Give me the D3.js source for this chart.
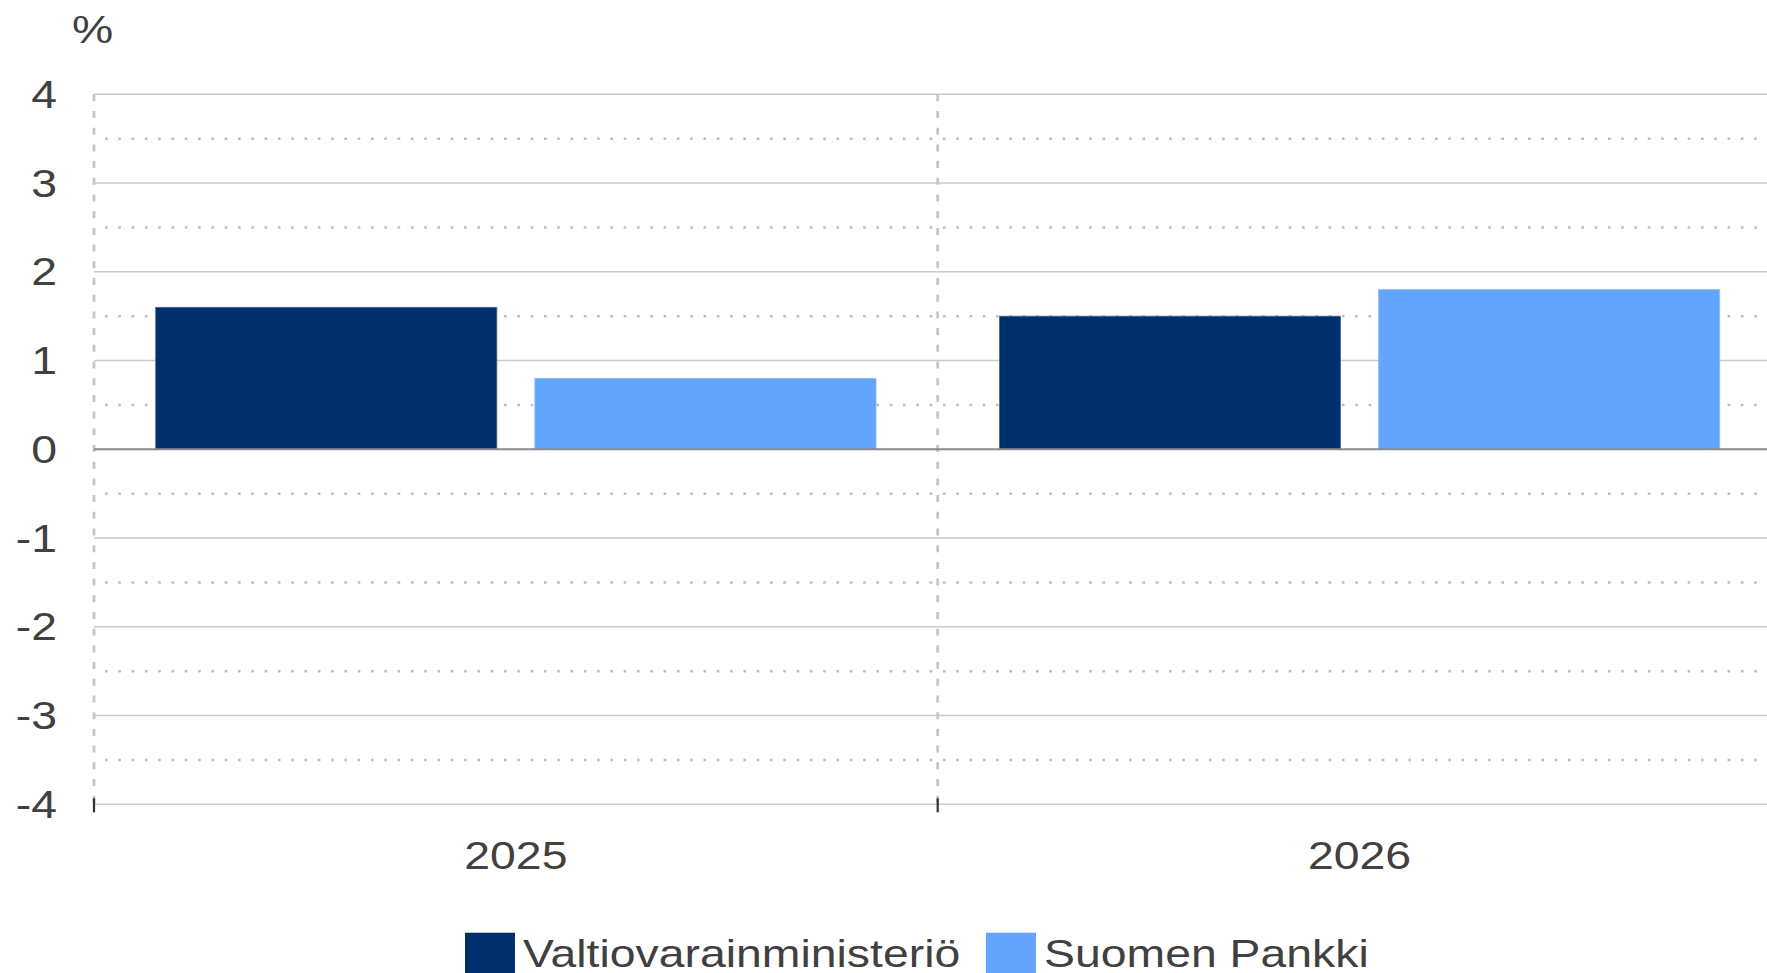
<!DOCTYPE html>
<html><head><meta charset="utf-8">
<script src="https://cdn.jsdelivr.net/npm/d3@7"></script>
<style>html,body{margin:0;padding:0;background:#fff;overflow:hidden}</style>
</head><body>
<svg id="chart" width="1767" height="973"></svg>
<script>
const categories = ["2025", "2026"];
const seriesNames = ["Valtiovarainministeriö", "Suomen Pankki"];
const valtiovarainministerio = [1.6, 1.5];
const suomenPankki = [0.8, 1.8];
const yTicks = [-4, -3, -2, -1, 0, 1, 2, 3, 4];
const yMinorTicks = [-3.5, -2.5, -1.5, -0.5, 0.5, 1.5, 2.5, 3.5];
const unitLabel = "%";
const colors = ["#002f6b", "#63a4fe"];

const svg = d3.select("#chart");
const SX = 1.205, FS = 38.5, TXT = "#404040";
const left = 94, bandW = 843.7;
const x = d3.scaleBand().domain(categories).range([left, left + bandW * categories.length]).paddingInner(0).paddingOuter(0);
const inner = d3.scaleBand().domain(seriesNames).range([0, x.bandwidth()]).paddingInner(0.1002).paddingOuter(0.1627);
const y = d3.scaleLinear().domain([-4, 4]).range([804.3, 94.3]);
const right = x.range()[1];

function label(g, tx, ty, text, anchor) {
  g.append("text")
    .attr("transform", `translate(${tx},${ty}) scale(${SX},1)`)
    .attr("text-anchor", anchor)
    .attr("font-family", "Liberation Sans, Arial, sans-serif")
    .attr("font-size", FS)
    .attr("fill", TXT)
    .text(text);
}

// minor dotted grid
svg.append("g").selectAll("line").data(yMinorTicks).join("line")
  .attr("x1", left + 11).attr("x2", right)
  .attr("y1", d => y(d)).attr("y2", d => y(d))
  .attr("stroke", "#bdbdbd").attr("stroke-width", 2.6)
  .attr("stroke-dasharray", "2.6,10.7");

// major solid grid
svg.append("g").selectAll("line").data(yTicks.filter(d => d !== 0)).join("line")
  .attr("x1", left).attr("x2", right)
  .attr("y1", d => y(d)).attr("y2", d => y(d))
  .attr("stroke", "#cacaca").attr("stroke-width", 1.5);

// vertical dashed category separators
const seps = categories.map(c => x(c)).concat([right]);
svg.append("g").selectAll("line").data(seps).join("line")
  .attr("x1", d => d).attr("x2", d => d)
  .attr("y1", y(4)).attr("y2", y(-4))
  .attr("stroke", "#c6c6c6").attr("stroke-width", 2.8)
  .attr("stroke-dasharray", "7,9.7");

// bars
const seriesVals = [valtiovarainministerio, suomenPankki];
seriesNames.forEach((s, si) => {
  svg.append("g").selectAll("rect").data(categories).join("rect")
    .attr("x", (c) => x(c) + inner(s))
    .attr("width", inner.bandwidth())
    .attr("y", (c, i) => y(Math.max(0, seriesVals[si][i])))
    .attr("height", (c, i) => Math.abs(y(seriesVals[si][i]) - y(0)))
    .attr("fill", colors[si])
    .attr("stroke", si === 0 ? "#4d6c95" : "#8fbdff").attr("stroke-width", 0.8);
});

// zero line
svg.append("line").attr("x1", left).attr("x2", right)
  .attr("y1", y(0)).attr("y2", y(0))
  .attr("stroke", "#8a8a8a").attr("stroke-width", 2);

// bottom ticks
svg.append("g").selectAll("line").data(seps).join("line")
  .attr("x1", d => d).attr("x2", d => d)
  .attr("y1", y(-4) - 6).attr("y2", y(-4) + 8)
  .attr("stroke", "#333").attr("stroke-width", 2.2);

// y labels
const gy = svg.append("g");
yTicks.forEach(t => label(gy, 57, y(t) + 13.6, String(t), "end"));
label(gy, 72, 43, unitLabel, "start");

// x labels
const gx = svg.append("g");
categories.forEach(c => label(gx, x(c) + x.bandwidth() / 2, 869.3, c, "middle"));

// legend
const gl = svg.append("g");
const legendX = [465, 986];
seriesNames.forEach((s, i) => {
  gl.append("rect").attr("x", legendX[i]).attr("y", 932.7).attr("width", 50).attr("height", 44).attr("fill", colors[i]);
  label(gl, legendX[i] + 58, 966.6, s, "start");
});
</script>
</body></html>
